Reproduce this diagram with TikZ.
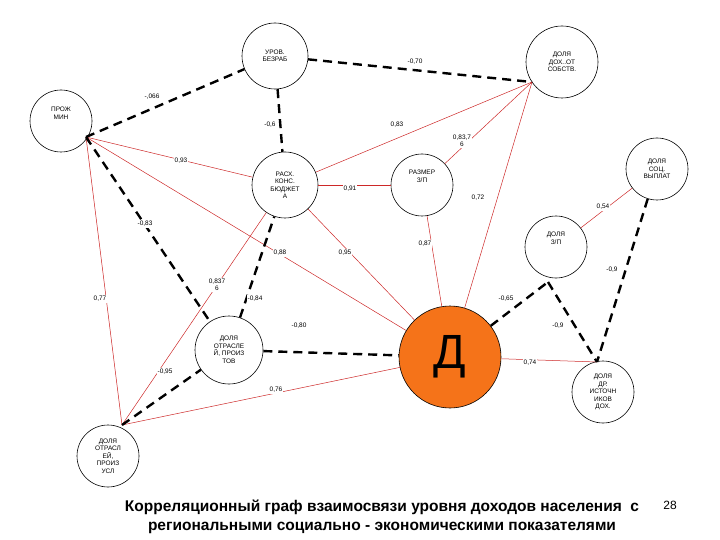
\documentclass[tikz,border=0pt]{standalone}
\usepackage{fontspec}
\setmainfont{Liberation Sans}
\begin{document}
\begin{tikzpicture}[x=1pt,y=-1pt,
  circ/.style={draw,circle,line width=0.6pt,inner sep=0pt,align=center,font=\fontsize{6.5}{7.5}\selectfont,fill=white},
  posedge/.style={line width=0.5pt,draw={rgb,255:red,205;green,40;blue,40}},
  negedge/.style={line width=2.4pt,draw=black,dash pattern=on 9pt off 6pt},
  lbl/.style={fill=white,inner sep=1pt,font=\fontsize{6.5}{7.5}\selectfont,align=center}]
\useasboundingbox (0,0) rectangle (720,540);
% nodes
\node[circ,minimum size=66pt] (ur) at (275,56) {УРОВ.\\БЕЗРАБ};
\node[circ,minimum size=72pt] (dox) at (562,62) {ДОЛЯ\\ДОХ..ОТ\\СОБСТВ.};
\node[circ,minimum size=62pt] (pm) at (61,121) {ПРОЖ\\МИН\\[8pt]};
\node[circ,minimum size=66pt] (rk) at (285,185) {РАСХ.\\КОНС.\\БЮДЖЕТ\\А};
\node[circ,minimum size=62pt] (rz) at (422,185) {РАЗМЕР\\З/П\\[10pt]};
\node[circ,minimum size=62pt] (soc) at (657,169) {ДОЛЯ\\СОЦ.\\ВЫПЛАТ};
\node[circ,minimum size=62pt] (dzp) at (556,247) {ДОЛЯ\\З/П\\[10pt]};
\node[circ,minimum size=102pt,fill={rgb,255:red,245;green,115;blue,25},font=\fontsize{48}{50}\selectfont] (d) at (450,357) {Д};
\node[circ,minimum size=68pt] (tov) at (229,350) {ДОЛЯ\\ОТРАСЛЕ\\Й, ПРОИЗ\\ТОВ};
\node[circ,minimum size=62pt] (usl) at (108,456) {ДОЛЯ\\ОТРАСЛ\\ЕЙ,\\ПРОИЗ\\УСЛ};
\node[circ,minimum size=62pt] (dr) at (603,392) {ДОЛЯ\\ДР.\\ИСТОЧН\\ИКОВ\\ДОХ.};
% attachment points
\coordinate (pmP) at (86,137);
\coordinate (uslP) at (122,425);
\coordinate (doxP) at (532,82);
\coordinate (dzpP) at (548,282);
\coordinate (drP) at (597,362);
% positive edges
\draw[posedge] (pmP) -- (rk);
\draw[posedge] (pmP) -- (d);
\draw[posedge] (pmP) -- (uslP);
\draw[posedge] (uslP) -- (rk);
\draw[posedge] (uslP) -- (d);
\draw[posedge] (rk) -- (rz);
\draw[posedge] (rk) -- (d);
\draw[posedge] (rk) -- (doxP);
\draw[posedge] (rz) -- (doxP);
\draw[posedge] (rz) -- (d);
\draw[posedge] (d) -- (doxP);
\draw[posedge] (dzp) -- (soc);
\draw[posedge] (d) -- (drP);
% negative edges
\draw[negedge] (pmP) -- (ur);
\draw[negedge] (pmP) -- (tov);
\draw[negedge] (ur) -- (rk);
\draw[negedge] (ur) -- (doxP);
\draw[negedge] (tov) -- (rk);
\draw[negedge] (tov) -- (d);
\draw[negedge] (uslP) -- (tov);
\draw[negedge] (d) -- (dzpP);
\draw[negedge] (dzpP) -- (drP);
\draw[negedge] (soc) -- (drP);
% labels
\node[lbl] (l1) at (152,97) {-,066};
\node[lbl] (l2) at (415,62) {-0,70};
\node[lbl] (l3) at (270,125) {-0,6};
\node[lbl] (l4) at (397,125) {0,83};
\node[lbl] (l5) at (462,141) {0,83,7\\6};
\node[lbl] (l6) at (181,161) {0,93};
\node[lbl] (l7) at (350,189) {0,91};
\node[lbl] (l8) at (478,198) {0,72};
\node[lbl] (l9) at (603,207) {0,54};
\node[lbl] (l10) at (145,224) {-0,83};
\node[lbl] (l11) at (280,253) {0,88};
\node[lbl] (l12) at (345,253) {0,95};
\node[lbl] (l13) at (425,244) {0,87};
\node[lbl] (l14) at (612,270) {-0,9};
\node[lbl] (l15) at (217,285) {0,837\\6};
\node[lbl] (l16) at (100,299) {0,77};
\node[lbl] (l17) at (255,299) {-0,84};
\node[lbl] (l18) at (506,299) {-0,65};
\node[lbl] (l19) at (299,326) {-0,80};
\node[lbl] (l20) at (558,326) {-0,9};
\node[lbl] (l21) at (530,363) {0,74};
\node[lbl] (l22) at (165,372) {-0,95};
\node[lbl] (l23) at (276,390) {0,76};
% title
\node[font=\fontsize{15.5}{19}\selectfont\bfseries,align=center] (t) at (382,517) {Корреляционный граф взаимосвязи уровня доходов населения \ с\\региональными социально - экономическими показателями};
\node[font=\fontsize{12}{14}\selectfont] (pg) at (670,505) {28};
\end{tikzpicture}
\end{document}
